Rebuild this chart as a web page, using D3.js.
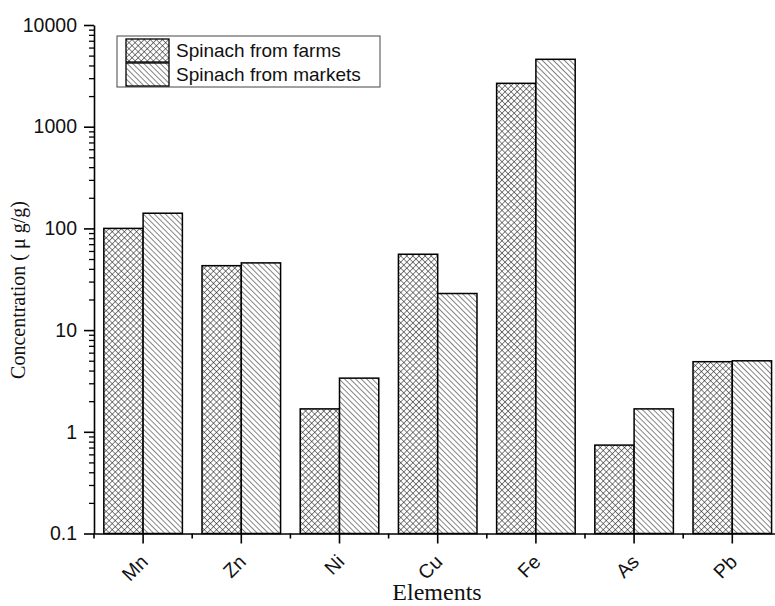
<!DOCTYPE html>
<html>
<head>
<meta charset="utf-8">
<script src="https://cdn.jsdelivr.net/npm/d3@7"></script>
<style>
  body { margin: 0; background: #fff; }
  svg { display: block; }
  .tick text { font-family: "Liberation Sans", Arial, sans-serif; font-size: 19.5px; fill: #111; }
  .axis-title { font-family: "Liberation Serif", "Times New Roman", serif; fill: #111; }
  .legend-text { font-family: "Liberation Sans", Arial, sans-serif; font-size: 19px; fill: #111; }
</style>
</head>
<body>
<svg id="chart" width="775" height="606"></svg>
<script>
const elements = ["Mn", "Zn", "Ni", "Cu", "Fe", "As", "Pb"];
const seriesNames = ["Spinach from farms", "Spinach from markets"];
const farmValues = [100, 43, 1.68, 55.7, 2670, 0.74, 4.89];
const marketValues = [141, 45.8, 3.37, 22.9, 4600, 1.68, 4.99];
const yMajorTicks = [0.1, 1, 10, 100, 1000, 10000];

const svg = d3.select("#chart");

const plotLeft = 94, plotRight = 781.4, plotTop = 25, plotBottom = 533.5;

const data = elements.map((e, i) => ({
  element: e,
  values: [
    { series: seriesNames[0], value: farmValues[i] },
    { series: seriesNames[1], value: marketValues[i] }
  ]
}));

// hatch patterns
const defs = svg.append("defs");
const cross = defs.append("pattern")
  .attr("id", "hatch-cross")
  .attr("patternUnits", "userSpaceOnUse")
  .attr("width", 4.3).attr("height", 4.3)
  .attr("patternTransform", "rotate(45)");
cross.append("rect").attr("width", 4.3).attr("height", 4.3).attr("fill", "#fff");
cross.append("line").attr("x1", 0).attr("y1", 0).attr("x2", 0).attr("y2", 4.3)
  .attr("stroke", "#222").attr("stroke-width", 1.1);
cross.append("line").attr("x1", 0).attr("y1", 0).attr("x2", 4.3).attr("y2", 0)
  .attr("stroke", "#222").attr("stroke-width", 1.1);

const diag = defs.append("pattern")
  .attr("id", "hatch-diag")
  .attr("patternUnits", "userSpaceOnUse")
  .attr("width", 3.9).attr("height", 3.9)
  .attr("patternTransform", "rotate(-45)");
diag.append("rect").attr("width", 3.9).attr("height", 3.9).attr("fill", "#fff");
diag.append("line").attr("x1", 0).attr("y1", 0).attr("x2", 0).attr("y2", 3.9)
  .attr("stroke", "#222").attr("stroke-width", 1.1);

const fills = { [seriesNames[0]]: "url(#hatch-cross)", [seriesNames[1]]: "url(#hatch-diag)" };

const x = d3.scaleBand()
  .domain(elements)
  .range([plotLeft, plotRight])
  .padding(0);

const xInner = d3.scaleBand()
  .domain(seriesNames)
  .range([0, x.bandwidth()])
  .paddingInner(0)
  .paddingOuter(0.25);

const y = d3.scaleLog()
  .domain([0.1, 10000])
  .range([plotBottom, plotTop]);

// bars
const groups = svg.append("g").selectAll("g")
  .data(data)
  .enter()
  .append("g")
  .attr("transform", d => `translate(${x(d.element)},0)`);

groups.selectAll("rect")
  .data(d => d.values)
  .enter()
  .append("rect")
  .attr("x", d => xInner(d.series))
  .attr("y", d => y(d.value))
  .attr("width", xInner.bandwidth())
  .attr("height", d => plotBottom - y(d.value))
  .attr("fill", d => fills[d.series])
  .attr("stroke", "#000")
  .attr("stroke-width", 1.5);

// y axis: minor then major
const minorTicks = [];
yMajorTicks.slice(0, -1).forEach(t => {
  for (let k = 2; k <= 9; k++) minorTicks.push(t * k);
});

svg.append("g")
  .attr("transform", `translate(${plotLeft},0)`)
  .call(d3.axisLeft(y).tickValues(minorTicks).tickSize(5).tickFormat(""))
  .call(g => g.select(".domain").remove())
  .call(g => g.selectAll("line").attr("stroke", "#000").attr("stroke-width", 1.3));

svg.append("g")
  .attr("transform", `translate(${plotLeft},0)`)
  .call(d3.axisLeft(y).tickValues(yMajorTicks).tickSize(10).tickSizeOuter(0).tickPadding(7)
    .tickFormat(d => String(d)))
  .call(g => g.select(".domain").attr("stroke", "#000").attr("stroke-width", 1.6))
  .call(g => g.selectAll("line").attr("stroke", "#000").attr("stroke-width", 1.6));

// x axis
const xAxis = svg.append("g")
  .attr("transform", `translate(0,${plotBottom})`)
  .call(d3.axisBottom(x).tickSize(10).tickSizeOuter(0).tickFormat(""))
  .call(g => g.select(".domain").attr("stroke", "#000").attr("stroke-width", 1.6))
  .call(g => g.selectAll("line").attr("stroke", "#000").attr("stroke-width", 1.6));

xAxis.selectAll(".minor")
  .data(elements)
  .enter()
  .append("line")
  .attr("class", "minor")
  .attr("x1", d => x(d)).attr("x2", d => x(d))
  .attr("y1", 0).attr("y2", 5)
  .attr("stroke", "#000").attr("stroke-width", 1.6);

svg.append("g").selectAll("text")
  .data(elements)
  .enter()
  .append("text")
  .attr("transform", d => `translate(${x(d) + x.bandwidth() / 2 + 6},563) rotate(-45)`)
  .attr("text-anchor", "end")
  .style("font-family", "'Liberation Sans', Arial, sans-serif")
  .style("font-size", "19.5px")
  .attr("fill", "#111")
  .text(d => d);

// axis titles
svg.append("text")
  .attr("class", "axis-title")
  .attr("transform", "rotate(-90)")
  .attr("x", -290)
  .attr("y", 25)
  .attr("text-anchor", "middle")
  .style("font-size", "20px")
  .text("Concentration ( \u03bc g/g)");

svg.append("text")
  .attr("class", "axis-title")
  .attr("x", 437)
  .attr("y", 600)
  .attr("text-anchor", "middle")
  .style("font-size", "24px")
  .text("Elements");

// legend
const legend = svg.append("g");
legend.append("rect")
  .attr("x", 117).attr("y", 36)
  .attr("width", 263).attr("height", 51)
  .attr("fill", "#fff")
  .attr("stroke", "#444").attr("stroke-width", 1);

const legendRows = legend.selectAll(".row")
  .data(seriesNames)
  .enter()
  .append("g")
  .attr("class", "row")
  .attr("transform", (d, i) => `translate(126,${39 + i * 24})`);

legendRows.append("rect")
  .attr("width", 43).attr("height", 23)
  .attr("fill", d => fills[d])
  .attr("stroke", "#000").attr("stroke-width", 1.3);

legendRows.append("text")
  .attr("class", "legend-text")
  .attr("x", 50)
  .attr("y", 18)
  .text(d => d);
</script>
</body>
</html>
